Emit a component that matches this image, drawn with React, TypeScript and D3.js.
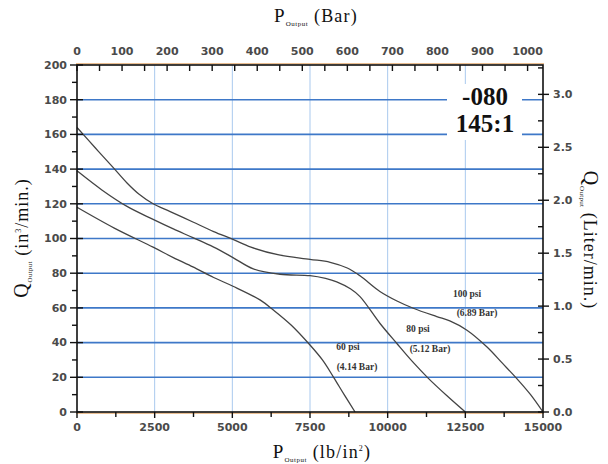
import React from "react";
import * as d3 from "d3";

const W = 608;
const H = 464;

// psi, in^3/min
const curve100: [number, number][] = [
  [0, 164], [600, 152], [1160, 141], [1610, 132], [2000, 125.5], [2450, 120], [3000, 115.5],
  [3730, 109.5], [4400, 104], [5020, 99.5], [5600, 95], [6500, 90.5], [7500, 88], [8150, 86.3],
  [8700, 83], [9110, 78.5], [9750, 69.5], [10300, 64], [10825, 59.8], [11580, 55],
  [12000, 52.5], [12540, 47.3], [13190, 37.6], [13700, 28], [14150, 19.4], [14600, 10], [15000, 0],
];
const curve80: [number, number][] = [
  [0, 139], [800, 128], [1610, 118.5], [2450, 111], [3100, 105.5], [3730, 100.5], [4400, 95],
  [5020, 89], [5675, 82.5], [6535, 79.4], [7500, 78.6], [8000, 77], [8360, 75], [8800, 71],
  [9110, 66.5], [9755, 51], [10290, 39.6], [10800, 29], [11310, 19.4], [11900, 9.5], [12500, 0],
];
const curve60: [number, number][] = [
  [0, 118], [1200, 106], [2450, 95], [3100, 89], [3730, 83.6], [4400, 77.5], [5020, 72.5],
  [5890, 64.6], [6320, 58.8], [6900, 50], [7500, 38.6], [7900, 30], [8250, 20.3], [8600, 10], [8950, 0],
];

const psiTicks = [0, 2500, 5000, 7500, 10000, 12500, 15000];
const barTicks = [0, 100, 200, 300, 400, 500, 600, 700, 800, 900, 1000];
const qTicks = [0, 20, 40, 60, 80, 100, 120, 140, 160, 180, 200];
const literTicks = [0, 0.5, 1.0, 1.5, 2.0, 2.5, 3.0];

const PSI_PER_BAR = 14.5038;
const L_PER_IN3 = 0.0163871;

const X0 = 77, X1 = 543, Y0 = 65, Y1 = 412;

export default function App() {
  const x = d3.scaleLinear().domain([0, 15000]).range([X0, X1]);
  const xBar = d3.scaleLinear().domain([0, 15000 / PSI_PER_BAR]).range([X0, X1]);
  const y = d3.scaleLinear().domain([0, 200]).range([Y1, Y0]);
  const yL = d3.scaleLinear().domain([0, 200 * L_PER_IN3]).range([Y1, Y0]);

  const line = d3
    .line<[number, number]>()
    .x((d) => x(d[0]))
    .y((d) => y(d[1]))
    .curve(d3.curveCatmullRom.alpha(0.5));

  const tickFont = {
    fontFamily: "'DejaVu Sans', Verdana, sans-serif",
    fontSize: 11,
    fontWeight: 700 as const,
    fill: "#4a4a4a",
  };
  const serif = "'Liberation Serif', 'Times New Roman', serif";

  const minorQ = d3.range(10, 200, 20);
  const minorPsi = d3.range(1250, 15000, 2500);
  const barMinor = d3.range(0, 1001, 50);
  const literMinor = d3.range(0.25, 3.26, 0.5);

  return (
    <svg width={W} height={H} style={{ position: "absolute", left: 0, top: 0, background: "#fff" }}>
      {/* vertical grid */}
      {psiTicks.slice(1, -1).map((t) => (
        <line key={"vg" + t} x1={x(t)} x2={x(t)} y1={Y0} y2={Y1} stroke="#a9c9ee" strokeWidth={1} />
      ))}
      {/* horizontal grid */}
      {qTicks.slice(1, -1).map((t) => (
        <line key={"hg" + t} x1={X0} x2={X1} y1={y(t)} y2={y(t)} stroke="#3e78c8" strokeWidth={1.6} />
      ))}

      {/* model label box */}
      <rect x={447} y={84} width={75} height={56} fill="#fff" />
      <text x={485} y={105} textAnchor="middle" fontFamily={serif} fontWeight={700} fontSize={25} fill="#111">
        -080
      </text>
      <text x={485} y={132} textAnchor="middle" fontFamily={serif} fontWeight={700} fontSize={25} fill="#111">
        145:1
      </text>

      {/* curves */}
      {[curve100, curve80, curve60].map((c, i) => (
        <path key={"c" + i} d={line(c) || ""} fill="none" stroke="#444" strokeWidth={1.3} />
      ))}

      {/* curve labels */}
      <g fontFamily={serif} fontSize={9.5} fontWeight={700} fill="#333">
        <text x={467} y={297} textAnchor="middle">100 psi</text>
        <text x={477} y={316} textAnchor="middle">(6.89 Bar)</text>
        <text x={418} y={332} textAnchor="middle">80 psi</text>
        <text x={430} y={352} textAnchor="middle">(5.12 Bar)</text>
        <text x={348} y={350} textAnchor="middle">60 psi</text>
        <text x={357} y={370} textAnchor="middle">(4.14 Bar)</text>
      </g>

      {/* frame */}
      <line x1={X0 - 1} x2={X1 + 1} y1={Y0 - 1.2} y2={Y0 - 1.2} stroke="#e0a060" strokeWidth={1} />
      <line x1={X0 - 1} x2={X1 + 1} y1={Y1 + 1.2} y2={Y1 + 1.2} stroke="#e0a060" strokeWidth={1} />
      <rect x={X0} y={Y0} width={X1 - X0} height={Y1 - Y0} fill="none" stroke="#111" strokeWidth={1.6} />

      {/* left axis ticks */}
      {qTicks.map((t) => (
        <line key={"lt" + t} x1={X0 - 7} x2={X0 + 6} y1={y(t)} y2={y(t)} stroke="#111" strokeWidth={1.4} />
      ))}
      {minorQ.map((t) => (
        <line key={"lm" + t} x1={X0 - 5} x2={X0} y1={y(t)} y2={y(t)} stroke="#111" strokeWidth={1.4} />
      ))}
      {qTicks.map((t) => (
        <text key={"ll" + t} x={X0 - 10} y={y(t)} dy="0.35em" textAnchor="end" {...tickFont}>
          {t}
        </text>
      ))}

      {/* right axis ticks */}
      {literTicks.map((t) => (
        <line key={"rt" + t} x1={X1 - 5} x2={X1 + 6} y1={yL(t)} y2={yL(t)} stroke="#111" strokeWidth={1.4} />
      ))}
      {literMinor.map((t) => (
        <line key={"rm" + t} x1={X1 - 5} x2={X1} y1={yL(t)} y2={yL(t)} stroke="#111" strokeWidth={1.4} />
      ))}
      {literTicks.map((t) => (
        <text key={"rl" + t} x={X1 + 10} y={yL(t)} dy="0.35em" textAnchor="start" {...tickFont}>
          {t.toFixed(1)}
        </text>
      ))}

      {/* bottom axis ticks */}
      {psiTicks.map((t) => (
        <line key={"bt" + t} x1={x(t)} x2={x(t)} y1={Y1} y2={Y1 + 6} stroke="#111" strokeWidth={1.4} />
      ))}
      {minorPsi.map((t) => (
        <line key={"bm" + t} x1={x(t)} x2={x(t)} y1={Y1} y2={Y1 + 5} stroke="#111" strokeWidth={1.4} />
      ))}
      {psiTicks.map((t) => (
        <text key={"bl" + t} x={x(t)} y={Y1 + 19} textAnchor="middle" {...tickFont}>
          {t}
        </text>
      ))}

      {/* top axis ticks */}
      {barMinor.map((t) => (
        <line key={"tt" + t} x1={xBar(t)} x2={xBar(t)} y1={Y0} y2={Y0 + 6} stroke="#111" strokeWidth={1.4} />
      ))}
      {barTicks.map((t) => (
        <text key={"tl" + t} x={xBar(t)} y={Y0 - 10} textAnchor="middle" {...tickFont}>
          {t}
        </text>
      ))}

      {/* axis titles */}
      <text x={316} y={22} textAnchor="middle" fontFamily={serif} fontSize={19} fill="#111" letterSpacing={1.2}>
        P<tspan fontSize={7} dy={4} letterSpacing={0.5}>Output</tspan>
        <tspan dy={-4} fontSize={18}> (Bar)</tspan>
      </text>
      <text x={322} y={458} textAnchor="middle" fontFamily={serif} fontSize={19} fill="#111" letterSpacing={1.2}>
        P<tspan fontSize={7} dy={4} letterSpacing={0.5}>Output</tspan>
        <tspan dy={-4} fontSize={18}> (lb/in</tspan>
        <tspan dy={-7} fontSize={8}>2</tspan>
        <tspan dy={7} fontSize={18}>)</tspan>
      </text>
      <text
        transform={`translate(28,238) rotate(-90)`}
        textAnchor="middle"
        fontFamily={serif}
        fontSize={20}
        fill="#111"
        letterSpacing={1}
      >
        Q<tspan fontSize={7} dy={4} letterSpacing={0.3}>Output</tspan>
        <tspan dy={-4} fontSize={18}> (in</tspan>
        <tspan dy={-7} fontSize={8}>3</tspan>
        <tspan dy={7} fontSize={18}>/min.)</tspan>
      </text>
      <text
        transform={`translate(584,240) rotate(90)`}
        textAnchor="middle"
        fontFamily={serif}
        fontSize={20}
        fill="#111"
        letterSpacing={1}
      >
        Q<tspan fontSize={7} dy={4} letterSpacing={0.3}>Output</tspan>
        <tspan dy={-4} fontSize={18}> (Liter/min.)</tspan>
      </text>
    </svg>
  );
}
